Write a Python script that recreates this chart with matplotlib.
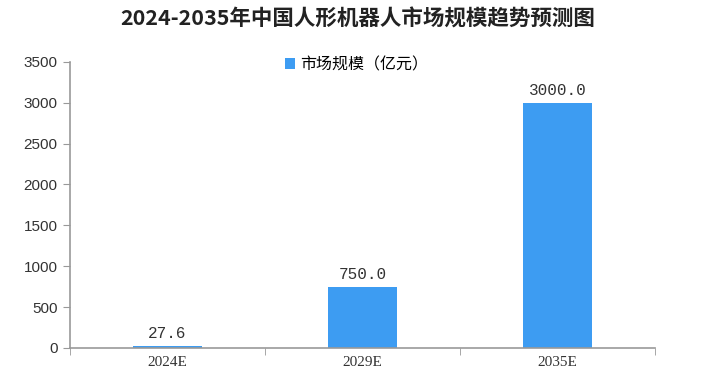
import matplotlib
matplotlib.use('Agg')
import matplotlib.pyplot as plt

# data
years = ['2024E', '2029E', '2035E']
market_size = [27.6, 750.0, 3000.0]
y_ticks = [0, 500, 1000, 1500, 2000, 2500, 3000, 3500]

plt.rcParams['font.family'] = ['Noto Sans CJK SC', 'DejaVu Sans']

fig = plt.figure(figsize=(7.15, 3.84), dpi=100)
ax = fig.add_axes([0.098, 0.094, 0.818, 0.745])

x = list(range(len(years)))
bars = ax.bar(x, market_size, width=0.35, color='#3d9cf2', label='市场规模（亿元）')

for xi, v in zip(x, market_size):
    ax.text(xi, v + 60, f'{v:.1f}', ha='center', va='bottom',
            fontsize=11.5, family='Liberation Mono', color='#333333')

ax.set_xlim(-0.5, 2.5)
ax.set_ylim(0, 3500)
ax.set_yticks(y_ticks)
ax.set_yticklabels([str(t) for t in y_ticks], family='Liberation Sans', fontsize=11, color='#333333')
ax.set_xticks(x)
ax.set_xticklabels(years, family='Liberation Serif', fontsize=11, color='#333333')
ax.set_xticks([-0.5, 0.5, 1.5, 2.5], minor=True)
ax.tick_params(axis='x', which='major', length=0, pad=6)
ax.tick_params(axis='x', which='minor', length=5, color='#999999')
ax.tick_params(axis='y', length=5, color='#999999', pad=4)

for s in ['top', 'right']:
    ax.spines[s].set_visible(False)
for s in ['left', 'bottom']:
    ax.spines[s].set_color('#999999')
    ax.spines[s].set_linewidth(1.2)

ax.legend(loc='upper center', bbox_to_anchor=(0.49, 1.07), frameon=False,
          fontsize=11.5, handlelength=0.6, handleheight=0.6, handletextpad=0.3)

fig.text(0.5, 0.95, '2024-2035年中国人形机器人市场规模趋势预测图', ha='center', va='center',
         fontsize=15.5, fontweight='bold', color='#222222')

fig.savefig('out.png', dpi=100)
plt.close(fig)
